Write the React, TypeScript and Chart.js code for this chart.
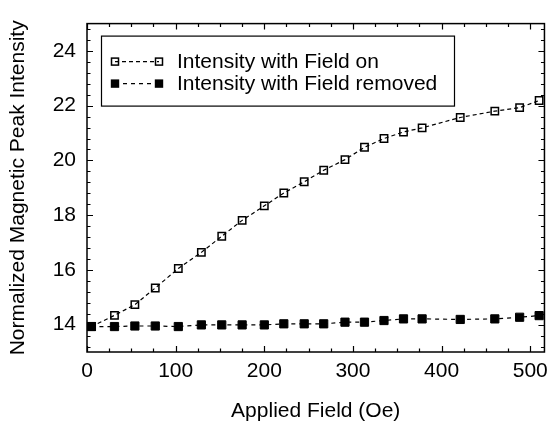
import React, { useEffect, useRef } from 'react';
import { Chart, registerables } from 'chart.js';
Chart.register(...registerables);

const appliedField = [5, 31, 54, 77, 103, 129, 152, 175, 200, 222, 245, 267, 291, 313, 335, 357, 378, 421, 460, 488, 510];
const intensityFieldOn = [13.93, 14.34, 14.73, 15.34, 16.05, 16.64, 17.23, 17.81, 18.34, 18.81, 19.22, 19.64, 20.03, 20.48, 20.8, 21.04, 21.19, 21.57, 21.8, 21.93, 22.19];
const intensityFieldRemoved = [13.93, 13.93, 13.95, 13.95, 13.93, 13.99, 13.99, 13.99, 13.99, 14.03, 14.03, 14.03, 14.09, 14.09, 14.15, 14.21, 14.21, 14.19, 14.21, 14.27, 14.33];
const seriesLabels = ['Intensity with Field on', 'Intensity with Field removed'];
const xTickLabels = [0, 100, 200, 300, 400, 500];
const yTickLabels = [14, 16, 18, 20, 22, 24];
const xRange = [0, 516];
const yRange = [13, 25];
const xMinorStep = 25;
const yMinorStep = 0.4;

const FONT = "'Liberation Sans', Arial, Helvetica, sans-serif";

const framePlugin = {
  id: 'frameTicksLegend',
  afterDatasetsDraw(chart: any) {
    const { ctx, chartArea: a, scales } = chart;
    const xs = scales.x, ys = scales.y;
    ctx.save();
    ctx.strokeStyle = '#000';
    ctx.lineWidth = 1.5;
    ctx.strokeRect(a.left, a.top, a.right - a.left, a.bottom - a.top);
    ctx.lineWidth = 1.2;
    const major = 6, minor = 3.5;
    ctx.beginPath();
    // x ticks
    for (let v = xRange[0]; v <= xRange[1] + 1e-9; v += xMinorStep) {
      const isMajor = xTickLabels.includes(Math.round(v));
      const len = isMajor ? major : minor;
      const px = Math.round(xs.getPixelForValue(v)) + 0.5;
      ctx.moveTo(px, a.bottom); ctx.lineTo(px, a.bottom - len);
      ctx.moveTo(px, a.top); ctx.lineTo(px, a.top + len);
    }
    // y ticks
    for (let k = -10; k < 40; k++) {
      const v = yTickLabels[0] + k * yMinorStep;
      if (v <= yRange[0] + 1e-6 || v >= yRange[1] - 1e-6) continue;
      const isMajor = yTickLabels.some((t) => Math.abs(t - v) < 1e-6);
      const len = isMajor ? major : minor;
      const py = Math.round(ys.getPixelForValue(v)) + 0.5;
      ctx.moveTo(a.left, py); ctx.lineTo(a.left + len, py);
      ctx.moveTo(a.right, py); ctx.lineTo(a.right - len, py);
    }
    ctx.stroke();
    ctx.restore();
  },
  afterDraw(chart: any) {
    const { ctx, chartArea: a } = chart;
    const bx = a.left + 14, by = a.top + 12, bw = 353, bh = 70;
    ctx.save();
    ctx.fillStyle = '#fff';
    ctx.fillRect(bx, by, bw, bh);
    ctx.strokeStyle = '#000';
    ctx.lineWidth = 1.2;
    ctx.strokeRect(bx + 0.5, by + 0.5, bw, bh);
    const rows = [by + 26, by + 48];
    const x1 = bx + 14, x2 = bx + 58;
    rows.forEach((ry, i) => {
      ctx.strokeStyle = '#000';
      ctx.lineWidth = 1.2;
      ctx.setLineDash(i === 0 ? [4, 3] : [4, 4]);
      ctx.beginPath();
      ctx.moveTo(x1, ry); ctx.lineTo(x2, ry);
      ctx.stroke();
      ctx.setLineDash([]);
      [x1, x2].forEach((mx) => {
        if (i === 0) {
          ctx.lineWidth = 1.5;
          ctx.strokeRect(mx - 3.5, ry - 3.5, 7, 7);
        } else {
          ctx.fillStyle = '#000';
          ctx.fillRect(mx - 4.2, ry - 4.2, 8.4, 8.4);
        }
      });
      ctx.fillStyle = '#000';
      ctx.font = `21px ${FONT}`;
      ctx.textBaseline = 'middle';
      ctx.textAlign = 'left';
      ctx.fillText(seriesLabels[i], bx + 76, ry + 1);
    });
    ctx.restore();
  },
};

export default function App() {
  const ref = useRef<HTMLCanvasElement>(null);
  useEffect(() => {
    if (!ref.current) return;
    const font = { family: FONT, size: 21 };
    const chart = new Chart(ref.current, {
      type: 'line',
      data: {
        datasets: [
          {
            label: seriesLabels[0],
            data: appliedField.map((x, i) => ({ x, y: intensityFieldOn[i] })),
            borderColor: '#000',
            borderWidth: 1.2,
            borderDash: [4, 3],
            pointStyle: 'rect',
            pointRadius: 5.2,
            pointBorderWidth: 1.5,
            pointBorderColor: '#000',
            pointBackgroundColor: 'rgba(0,0,0,0)',
            fill: false,
            tension: 0,
            order: 1,
          },
          {
            label: seriesLabels[1],
            data: appliedField.map((x, i) => ({ x, y: intensityFieldRemoved[i] })),
            borderColor: '#000',
            borderWidth: 1.2,
            borderDash: [4, 4],
            pointStyle: 'rect',
            pointRadius: 5.8,
            pointBorderWidth: 1,
            pointBorderColor: '#000',
            pointBackgroundColor: '#000',
            fill: false,
            tension: 0,
            order: 0,
          },
        ],
      },
      options: {
        responsive: false,
        animation: false,
        layout: { padding: { top: 12, right: 3, left: 0, bottom: 0 } },
        plugins: { legend: { display: false }, tooltip: { enabled: false } },
        scales: {
          x: {
            type: 'linear',
            min: xRange[0],
            max: xRange[1],
            afterBuildTicks: (s: any) => { s.ticks = xTickLabels.map((v) => ({ value: v })); },
            afterFit: (s: any) => { s.height = 73; },
            ticks: { font, color: '#000', padding: 7, maxRotation: 0, autoSkip: false },
            grid: { display: false, drawTicks: false },
            border: { display: false },
            title: { display: true, text: 'Applied Field (Oe)', font, color: '#000', padding: { top: 0, bottom: 1 } },
          },
          y: {
            type: 'linear',
            min: yRange[0],
            max: yRange[1],
            afterBuildTicks: (s: any) => { s.ticks = yTickLabels.map((v) => ({ value: v })); },
            afterFit: (s: any) => { s.width = 87; },
            ticks: { font, color: '#000', padding: 11, autoSkip: false },
            grid: { display: false, drawTicks: false },
            border: { display: false },
            title: { display: true, text: 'Normalized Magnetic Peak Intensity', font, color: '#000', padding: { top: 6, bottom: 0 } },
          },
        },
      } as any,
      plugins: [framePlugin],
    });
    return () => chart.destroy();
  }, []);
  return (
    <div style={{ position: 'absolute', left: 0, top: 0, width: 555, height: 425, background: '#fff' }}>
      <canvas ref={ref} width={555} height={425} />
    </div>
  );
}
